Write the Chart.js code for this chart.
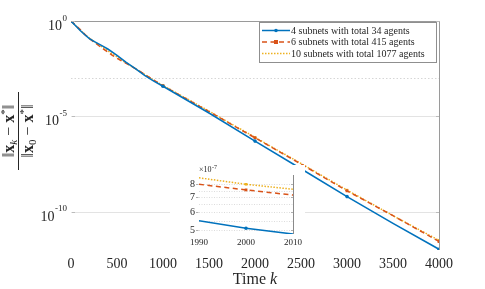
<!DOCTYPE html>
<html>
<head>
<meta charset="utf-8">
<script src="https://cdn.jsdelivr.net/npm/chart.js@4.4.0/dist/chart.umd.min.js"></script>
<style>
html,body{margin:0;padding:0;background:#fff;}
#wrap{position:relative;width:485px;height:289px;}
#main{position:absolute;left:0;top:0;}
#inset{position:absolute;left:170px;top:165px;}
</style>
</head>
<body>
<div id="wrap">
<canvas id="main" width="485" height="289"></canvas>
<canvas id="inset" width="135" height="85"></canvas>
</div>
<script>
// ---- data ----
const steps = [0,50,100,150,200,250,300,350,400,450,500,600,700,800,900,1000,1500,2000,2500,3000,3500,4000];
const blue4 = [1,0.562,0.316,0.19,0.12,0.085,0.063,0.047,0.034,0.0234,0.0158,6.8e-3,3.2e-3,1.4e-3,7.1e-4,3.8e-4,1.5e-5,5.1e-7,1.8e-8,6.3e-10,2.5e-11,1.1e-12];
const orange6 = [1,0.6,0.355,0.2,0.12,0.079,0.052,0.035,0.024,0.0158,0.0112,6.0e-3,3.2e-3,1.6e-3,7.9e-4,4.0e-4,1.8e-5,7.55e-7,3.2e-8,1.26e-9,6.3e-11,2.8e-12];
const yellow10 = [1,0.575,0.34,0.2,0.126,0.085,0.058,0.04,0.0275,0.019,0.0132,6.3e-3,3.2e-3,1.6e-3,7.9e-4,4.2e-4,1.9e-5,8.0e-7,3.4e-8,1.38e-9,6.3e-11,3.2e-12];
const markerSteps = [0,1000,2000,3000,4000];
const seriesNames = ['4 subnets with total 34 agents','6 subnets with total 415 agents','10 subnets with total 1077 agents'];
const xTicks = [0,500,1000,1500,2000,2500,3000,3500,4000];
const yTickExps = [0,-5,-10];

const insetSteps = [1990,2000,2010];
const insetBlue = [5.5e-7,5.09e-7,4.8e-7];
const insetOrange = [8.0e-7,7.55e-7,7.16e-7];
const insetYellow = [8.55e-7,8.0e-7,7.6e-7];
const insetYTicks = [5e-7,6e-7,7e-7,8e-7];
const insetXTicks = [1990,2000,2010];

const C_BLUE='#0072BD', C_ORANGE='#D95319', C_YELLOW='#EDB120';
const TXT='#262626', SERIF='"Liberation Serif", "DejaVu Serif", serif';

function pts(xs, ys){ return xs.map((x,i)=>({x:x,y:ys[i]})); }
function radii(xs, marks, r){ return xs.map(x=>marks.includes(x)?r:0); }

function mkSets(xs, a, b, c, marks){
  return [
    {data:pts(xs,a), borderColor:C_BLUE, backgroundColor:C_BLUE, borderWidth:1.6, pointStyle:'circle', pointRadius:radii(xs,marks,1.8), pointBorderWidth:0, order:1},
    {data:pts(xs,b), borderColor:C_ORANGE, backgroundColor:C_ORANGE, borderWidth:1.5, borderDash:[5,3.5], pointStyle:'rect', pointRadius:radii(xs,marks,2), pointBorderWidth:0, order:2},
    {data:pts(xs,c), borderColor:C_YELLOW, backgroundColor:C_YELLOW, borderWidth:1.5, borderDash:[1.5,1.5], pointStyle:'rect', pointRadius:radii(xs,marks,1.8), pointBorderWidth:0, order:3}
  ];
}

function drawPieces(ctx, pieces, cx, base){
  let total=0;
  pieces.forEach(p=>{ctx.font=p.f; p.w=ctx.measureText(p.t).width; total+=p.w;});
  let x=cx-total/2;
  ctx.textAlign='left'; ctx.textBaseline='alphabetic';
  pieces.forEach(p=>{ctx.font=p.f; ctx.fillText(p.t,x,base+(p.dy||0)); x+=p.w;});
}

const mainPlugin = {
  id:'mainDeco',
  beforeDatasetsDraw(chart){
    const ctx=chart.ctx, a=chart.chartArea, ys=chart.scales.y;
    ctx.save();
    ctx.lineWidth=1;
    ctx.strokeStyle='#e3e3e3';
    [1e-5,1e-10].forEach(v=>{const y=Math.round(ys.getPixelForValue(v))+0.5; ctx.beginPath(); ctx.moveTo(a.left,y); ctx.lineTo(a.right,y); ctx.stroke();});
    ctx.setLineDash([1.5,2]);
    ctx.strokeStyle='#d6d6d6';
    [1e-3].forEach(v=>{const y=Math.round(ys.getPixelForValue(v))+0.5; ctx.beginPath(); ctx.moveTo(a.left,y); ctx.lineTo(a.right,y); ctx.stroke();});
    ctx.restore();
  },
  afterDraw(chart){
    const ctx=chart.ctx, a=chart.chartArea, ys=chart.scales.y;
    ctx.save();
    ctx.strokeStyle='#9a9a9a'; ctx.lineWidth=1;
    ctx.beginPath(); ctx.moveTo(a.left, a.top+0.5); ctx.lineTo(a.right+0.5, a.top+0.5); ctx.lineTo(a.right+0.5, a.bottom); ctx.stroke();
    ctx.strokeStyle='#bbbbbb';
    yTickExps.forEach(e=>{const y=Math.round(ys.getPixelForValue(Math.pow(10,e)))+0.5;
      ctx.beginPath(); ctx.moveTo(a.left+1,y); ctx.lineTo(a.left+4,y); ctx.stroke();
      ctx.beginPath(); ctx.moveTo(a.right-3,y); ctx.lineTo(a.right,y); ctx.stroke();});
    ctx.fillStyle=TXT;
    yTickExps.forEach(e=>{
      const y=ys.getPixelForValue(Math.pow(10,e));
      const ex=(e===0?'0':'-'+(-e));
      ctx.font='9px '+SERIF; const we=ctx.measureText(ex).width;
      const right=67;
      ctx.textAlign='left'; ctx.textBaseline='alphabetic';
      ctx.fillText(ex, right-we, y-0.5);
      ctx.font='14px '+SERIF; const wb=ctx.measureText('10').width;
      ctx.fillText('10', right-we-wb-0.5, y+9);
    });
    const cx=(a.left+a.right)/2;
    ctx.fillStyle=TXT;
    drawPieces(ctx,[{t:'Time ',f:'16px '+SERIF},{t:'k',f:'italic 16px '+SERIF}],cx,284);
    ctx.save();
    ctx.translate(18.5,131); ctx.rotate(-Math.PI/2);
    ctx.strokeStyle=TXT; ctx.lineWidth=1;
    ctx.beginPath(); ctx.moveTo(-39,0); ctx.lineTo(39,0); ctx.stroke();
    const F='16px '+SERIF, B='bold 16px '+SERIF, S='11px '+SERIF, SI='italic 11px '+SERIF;
    drawPieces(ctx,[{t:'\u2016',f:F},{t:'x',f:B},{t:'k',f:SI,dy:3},{t:' \u2212 ',f:F},{t:'x',f:B},{t:'*',f:S,dy:-6},{t:'\u2016',f:F}],0,-5);
    drawPieces(ctx,[{t:'\u2016',f:F},{t:'x',f:B},{t:'0',f:S,dy:3},{t:' \u2212 ',f:F},{t:'x',f:B},{t:'*',f:S,dy:-6},{t:'\u2016',f:F}],0,14);
    ctx.restore();
    const lx=259, ly=22, lw=177, lh=40;
    ctx.fillStyle='#fff'; ctx.fillRect(lx,ly,lw,lh);
    ctx.strokeStyle='#8f8f8f'; ctx.lineWidth=1; ctx.setLineDash([]);
    ctx.strokeRect(lx+0.5,ly+0.5,lw,lh);
    const rows=[30.5,42,53.5], cols=[C_BLUE,C_ORANGE,C_YELLOW], dashes=[[],[5,3.5],[1.5,1.5]];
    rows.forEach((ry,i)=>{
      ctx.strokeStyle=cols[i]; ctx.lineWidth=1.5; ctx.setLineDash(dashes[i]);
      ctx.beginPath(); ctx.moveTo(262,ry); ctx.lineTo(290,ry); ctx.stroke();
      ctx.setLineDash([]); ctx.fillStyle=cols[i];
      if(i===0){ctx.beginPath(); ctx.arc(276,ry,1.8,0,Math.PI*2); ctx.fill();}
      else if(i===1){ctx.fillRect(274,ry-2,4,4);}
      ctx.fillStyle=TXT; ctx.font='10px '+SERIF; ctx.textAlign='left'; ctx.textBaseline='middle';
      ctx.fillText(seriesNames[i],291,ry+0.5);
    });
    ctx.restore();
  }
};

new Chart(document.getElementById('main'),{
  type:'line',
  data:{datasets:mkSets(steps,blue4,orange6,yellow10,markerSteps)},
  options:{
    responsive:false, animation:false, devicePixelRatio:1,
    layout:{padding:{top:21,right:46,left:0,bottom:0}},
    plugins:{legend:{display:false},tooltip:{enabled:false}},
    elements:{line:{tension:0}},
    scales:{
      x:{type:'linear',min:0,max:4000,
        afterBuildTicks:s=>{s.ticks=xTicks.map(v=>({value:v}));},
        ticks:{font:{family:SERIF,size:14},color:TXT,padding:6,maxRotation:0,autoSkip:false,callback:v=>String(v)},
        grid:{display:false,drawTicks:false},border:{display:false},
        afterFit:s=>{s.height=39;}},
      y:{type:'logarithmic',min:1e-12,max:1,
        ticks:{display:false},grid:{display:false,drawTicks:false},border:{display:false},
        afterFit:s=>{s.width=71;}}
    }
  },
  plugins:[mainPlugin]
});

const insetPlugin = {
  id:'insetDeco',
  beforeDraw(chart){
    const ctx=chart.ctx; ctx.save(); ctx.fillStyle='#fff'; ctx.fillRect(0,0,chart.width,chart.height); ctx.restore();
  },
  beforeDatasetsDraw(chart){
    const ctx=chart.ctx, a=chart.chartArea, ys=chart.scales.y;
    ctx.save(); ctx.lineWidth=1; ctx.strokeStyle='#dcdcdc'; ctx.setLineDash([1,1.5]);
    [5e-7,5.5e-7,6e-7,6.5e-7,7e-7,7.5e-7,8e-7].forEach(v=>{const y=Math.round(ys.getPixelForValue(v))+0.5; ctx.beginPath(); ctx.moveTo(a.left,y); ctx.lineTo(a.right,y); ctx.stroke();});
    ctx.restore();
  },
  afterDraw(chart){
    const ctx=chart.ctx, a=chart.chartArea, ys=chart.scales.y;
    ctx.save();
    ctx.strokeStyle='#8a8a8a'; ctx.lineWidth=1;
    ctx.beginPath(); ctx.moveTo(a.right+0.5,a.top); ctx.lineTo(a.right+0.5,a.bottom); ctx.stroke();
    ctx.strokeStyle='#b0b0b0';
    insetYTicks.forEach(v=>{const y=Math.round(ys.getPixelForValue(v))+0.5;
      ctx.beginPath(); ctx.moveTo(a.left-3,y); ctx.lineTo(a.left-0.5,y); ctx.stroke();
      ctx.beginPath(); ctx.moveTo(a.right-2,y); ctx.lineTo(a.right,y); ctx.stroke();});
    ctx.fillStyle=TXT; ctx.textAlign='left'; ctx.textBaseline='alphabetic';
    ctx.font='8px '+SERIF; ctx.fillText('\u00d710',a.left,7);
    const w=ctx.measureText('\u00d710').width;
    ctx.font='6px '+SERIF; ctx.fillText('-7',a.left+w+0.5,4);
    ctx.restore();
  }
};

new Chart(document.getElementById('inset'),{
  type:'line',
  data:{datasets:mkSets(insetSteps,insetBlue,insetOrange,insetYellow,[2000])},
  options:{
    responsive:false, animation:false, devicePixelRatio:1,
    layout:{padding:{top:9,right:9,left:0,bottom:0}},
    plugins:{legend:{display:false},tooltip:{enabled:false}},
    scales:{
      x:{type:'linear',min:1990,max:2010,
        afterBuildTicks:s=>{s.ticks=insetXTicks.map(v=>({value:v}));},
        ticks:{font:{family:SERIF,size:9},color:TXT,padding:3,maxRotation:0,autoSkip:false,callback:v=>String(v)},
        grid:{display:false,drawTicks:false},border:{display:false},
        afterFit:s=>{s.height=16;}},
      y:{type:'logarithmic',min:4.8e-7,max:8.8e-7,
        afterBuildTicks:s=>{s.ticks=insetYTicks.map(v=>({value:v}));},
        ticks:{font:{family:SERIF,size:10},color:TXT,padding:4,callback:v=>String(Math.round(v/1e-7))},
        grid:{display:false,drawTicks:false},border:{display:false},
        afterFit:s=>{s.width=29;}}
    }
  },
  plugins:[insetPlugin]
});
</script>
</body>
</html>
